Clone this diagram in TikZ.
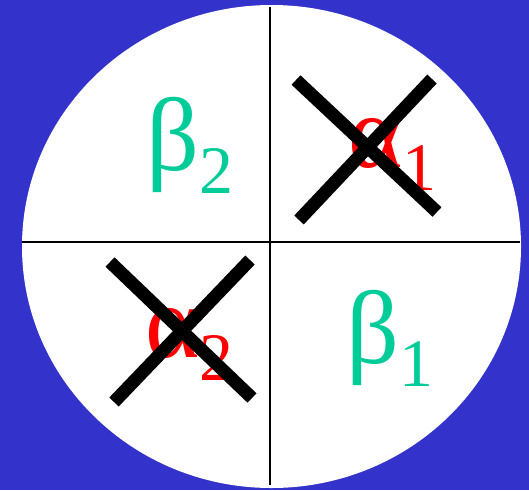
\documentclass[tikz,border=0pt]{standalone}
\usepackage{fontspec}
\setmainfont{Liberation Serif}
\usetikzlibrary{positioning}
\definecolor{slideblue}{RGB}{51,51,204}
\definecolor{betagreen}{RGB}{0,204,153}
\newcommand{\subidx}[1]{\raisebox{-23pt}{\fontsize{68}{68}\selectfont #1}}

\begin{document}
\begin{tikzpicture}[
    x=1pt, y=-1pt,
    quarter/.style = {draw, line width=2pt},
    rootlabel/.style = {anchor=base west, inner sep=0pt, font=\fontsize{104}{104}\selectfont},
    kept/.style = {rootlabel, text=betagreen},
    dropped/.style = {rootlabel, text=red},
    strike/.style = {draw, line width=13pt}
]
    \fill [slideblue] (0,0) rectangle (529,490);
    \useasboundingbox (0,0) rectangle (529,490);
    \fill [white] (271.5,246.5) ellipse [x radius=249.5, y radius=241.5];

    \coordinate (top) at (270,7);
    \coordinate (bottom) at (270,485);
    \coordinate (left) at (22,242);
    \coordinate (right) at (520,242);
    \draw [quarter] (top) -- (bottom);
    \draw [quarter] (left) -- (right);

    \node [kept] (beta2) at (146,170) {β\subidx{2}};
    \node [kept] (beta1) at (346,363) {β\subidx{1}};
    \node [dropped] (alpha1) at (348,167) {α\subidx{1}};
    \node [dropped] (alpha2) at (145,357) {α\subidx{2}};

    \draw [strike] (296,80) -- (437,212);
    \draw [strike] (432,79) -- (299,220);
    \draw [strike] (110,262) -- (252,398);
    \draw [strike] (250,260) -- (114,402);
\end{tikzpicture}
\end{document}
